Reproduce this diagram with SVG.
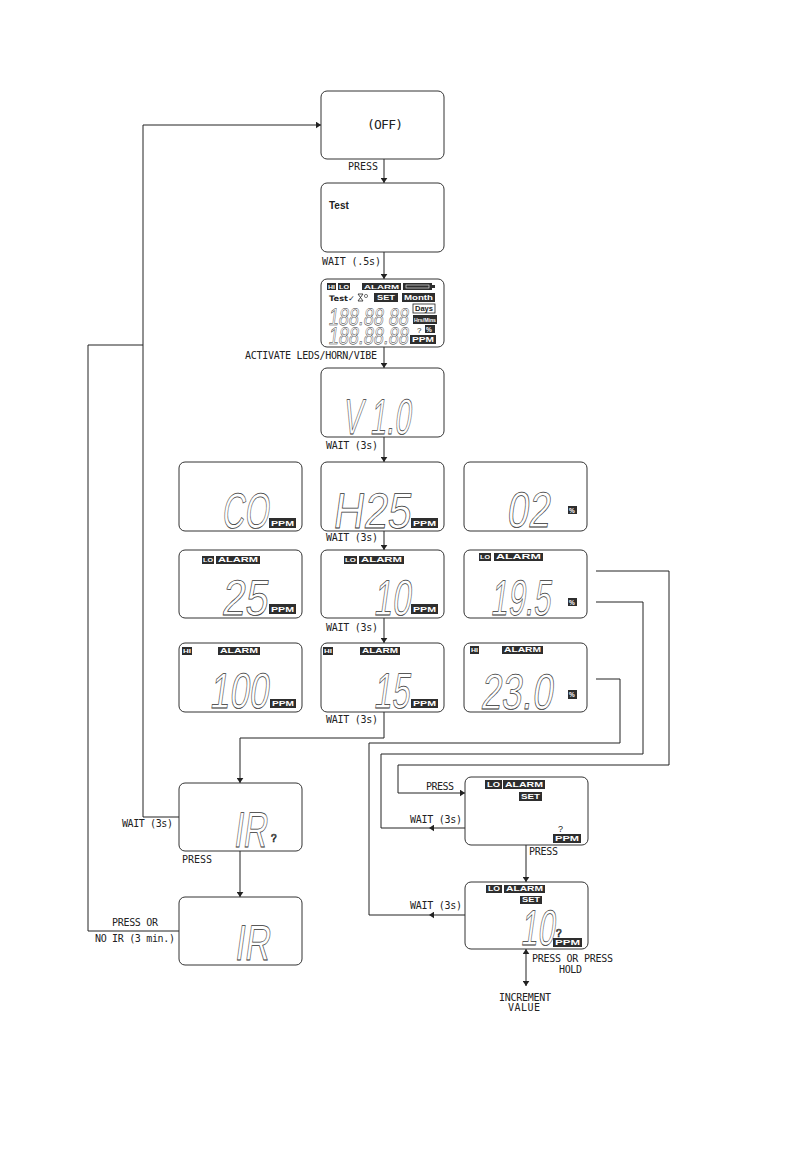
<svg xmlns="http://www.w3.org/2000/svg" width="792" height="1152" viewBox="0 0 792 1152">
<style>
.box{fill:#fff;stroke:#333;stroke-width:1}
.ln{fill:none;stroke:#222;stroke-width:1}
.lbl{font-family:"DejaVu Sans Mono","Liberation Mono",monospace;font-size:10px;fill:#222}
.dig{font-family:"Liberation Sans",Arial,sans-serif;font-size:50px;fill:#fff;stroke:#333;stroke-width:0.75}
.sdig{font-family:"Liberation Sans",Arial,sans-serif;font-size:24px;fill:#fff;stroke:#333;stroke-width:0.5}
.bd{fill:#2e2e2e}
.bt{font-family:"Liberation Sans",Arial,sans-serif;font-size:7px;font-weight:bold;fill:#fff}
.q{font-family:"Liberation Sans",Arial,sans-serif;font-size:10px;fill:#fff;stroke:#222;stroke-width:0.7}
</style>
<defs>
<marker id="a" viewBox="0 0 6 8" refX="6" refY="4" markerWidth="5" markerHeight="7" markerUnits="userSpaceOnUse" orient="auto"><path d="M0,0 L6,4 L0,8 z" fill="#222"/></marker>
</defs>

<g id="connectors">
<path class="ln" d="M384,159 V183" marker-end="url(#a)"/>
<path class="ln" d="M384,252 V279" marker-end="url(#a)"/>
<path class="ln" d="M384,347 V368" marker-end="url(#a)"/>
<path class="ln" d="M384,437 V462" marker-end="url(#a)"/>
<path class="ln" d="M384,531 V550" marker-end="url(#a)"/>
<path class="ln" d="M384,618 V643" marker-end="url(#a)"/>
<path class="ln" d="M384,712 V738 H240 V783" marker-end="url(#a)"/>
<path class="ln" d="M240,851 V897" marker-end="url(#a)"/>
<path class="ln" d="M179,817 H143 V125 H321" marker-end="url(#a)"/>
<path class="ln" d="M179,931 H88 V345 H143"/>
<path class="ln" d="M596,571 H669 V765 H398 V793 H465" marker-end="url(#a)"/>
<path class="ln" d="M465,828 H429" marker-end="url(#a)"/>
<path class="ln" d="M429,828 H381 V754 H643 V602 H596"/>
<path class="ln" d="M465,915 H429" marker-end="url(#a)"/>
<path class="ln" d="M429,915 H369 V743 H620 V679 H596"/>
<path class="ln" d="M526,845 V882" marker-end="url(#a)"/>
<path class="ln" d="M526,968 V949" marker-end="url(#a)"/>
<path class="ln" d="M526,968 V986" marker-end="url(#a)"/>
<text class="lbl" x="348" y="170" textLength="30">PRESS</text>
<text class="lbl" x="322" y="265" textLength="59">WAIT (.5s)</text>
<text class="lbl" x="245" y="359" textLength="132">ACTIVATE LEDS/HORN/VIBE</text>
<text class="lbl" x="326" y="449" textLength="52">WAIT (3s)</text>
<text class="lbl" x="326" y="541" textLength="52">WAIT (3s)</text>
<text class="lbl" x="326" y="631" textLength="52">WAIT (3s)</text>
<text class="lbl" x="326" y="723" textLength="52">WAIT (3s)</text>
<text class="lbl" x="122" y="827" textLength="51">WAIT (3s)</text>
<text class="lbl" x="182" y="863" textLength="30">PRESS</text>
<text class="lbl" x="112" y="926" textLength="46">PRESS OR</text>
<text class="lbl" x="95" y="942" textLength="80">NO IR (3 min.)</text>
<text class="lbl" x="426" y="790" textLength="28">PRESS</text>
<text class="lbl" x="410" y="823" textLength="52">WAIT (3s)</text>
<text class="lbl" x="529" y="855" textLength="29">PRESS</text>
<text class="lbl" x="410" y="909" textLength="52">WAIT (3s)</text>
<text class="lbl" x="532" y="962" textLength="81">PRESS OR PRESS</text>
<text class="lbl" x="559" y="973" textLength="23">HOLD</text>
<text class="lbl" x="499" y="1001" textLength="52">INCREMENT</text>
<text class="lbl" x="508" y="1011" textLength="32">VALUE</text>
</g>

<g id="off">
<rect class="box" x="321" y="91" width="123" height="68" rx="6"/>
<text class="lbl" x="367" y="129" style="font-size:13px" textLength="36">(OFF)</text>
</g>

<g id="test">
<rect class="box" x="321" y="183" width="123" height="69" rx="6"/>
<text x="329" y="209" style="font-family:'Liberation Sans',Arial,sans-serif;font-size:10px;font-weight:bold;fill:#222">Test</text>
</g>

<g id="lcd-all">
<rect class="box" x="321" y="279" width="123" height="68" rx="6"/>
<rect class="bd" x="327" y="283" width="9" height="7"/><text class="bt" x="328" y="289" style="font-size:6px" textLength="7" lengthAdjust="spacingAndGlyphs">HI</text>
<rect class="bd" x="338" y="283" width="12" height="7"/><text class="bt" x="339" y="289" style="font-size:6px" textLength="10" lengthAdjust="spacingAndGlyphs">LO</text>
<rect class="bd" x="362" y="283" width="39" height="7"/><text class="bt" x="364" y="289" style="font-size:6px" textLength="35" lengthAdjust="spacingAndGlyphs">ALARM</text>
<rect class="bd" x="403" y="283" width="29" height="7"/><rect class="bd" x="432" y="285" width="3" height="3"/>
<rect x="406" y="285" width="23" height="3" fill="none" stroke="#fff" stroke-width="0.6"/>
<text x="329" y="301" style="font-family:'DejaVu Sans',sans-serif;font-size:7.5px;font-weight:bold;fill:#222" textLength="26" lengthAdjust="spacingAndGlyphs">Test✓</text>
<path d="M358,294 H363 L358,301 H363 Z" fill="none" stroke="#222" stroke-width="0.8"/>
<circle cx="366" cy="296" r="1.6" fill="none" stroke="#222" stroke-width="0.6"/>
<rect class="bd" x="374" y="293" width="24" height="9"/><text class="bt" x="377" y="300" textLength="18" lengthAdjust="spacingAndGlyphs">SET</text>
<rect class="bd" x="402" y="293" width="33" height="9"/><text class="bt" x="404" y="300" textLength="29" lengthAdjust="spacingAndGlyphs">Month</text>
<rect x="413" y="304" width="22" height="9" fill="#fff" stroke="#222" stroke-width="0.8"/><text x="415" y="311" style="font-family:'Liberation Sans',Arial,sans-serif;font-size:6.5px;font-weight:bold;fill:#222" textLength="18" lengthAdjust="spacingAndGlyphs">Days</text>
<rect class="bd" x="413" y="315" width="24" height="9"/><text class="bt" x="414" y="322" style="font-size:6px" textLength="22" lengthAdjust="spacingAndGlyphs">Hrs/Mins</text>
<text x="417" y="333" style="font-family:'Liberation Sans',Arial,sans-serif;font-size:8px;fill:#222">?</text>
<rect class="bd" x="425" y="325" width="10" height="8"/><text class="bt" x="426" y="332" style="font-size:6.5px">%</text>
<rect class="bd" x="410" y="335" width="26" height="9"/><text class="bt" x="412" y="342" textLength="22" lengthAdjust="spacingAndGlyphs">PPM</text>
<text class="sdig" transform="translate(328,325) skewX(-8)" textLength="80" lengthAdjust="spacingAndGlyphs">188.88 88</text>
<text class="sdig" transform="translate(328,344) skewX(-8)" textLength="80" lengthAdjust="spacingAndGlyphs">188.88.88</text>
</g>

<g id="version">
<rect class="box" x="321" y="368" width="123" height="69" rx="6"/>
<text class="dig" transform="translate(342,434) skewX(-8)" textLength="68" lengthAdjust="spacingAndGlyphs">V 1.0</text>
</g>

<g id="co">
<rect class="box" x="179" y="462" width="123" height="69" rx="6"/>
<text class="dig" transform="translate(221,528) skewX(-8)" textLength="47" lengthAdjust="spacingAndGlyphs">CO</text>
<rect class="bd" x="269" y="518" width="27" height="10"/><text class="bt" x="271" y="526" textLength="23" lengthAdjust="spacingAndGlyphs">PPM</text>
</g>
<g id="h2s">
<rect class="box" x="321" y="462" width="123" height="69" rx="6"/>
<text class="dig" transform="translate(332,528) skewX(-8)" textLength="78" lengthAdjust="spacingAndGlyphs">H25</text>
<rect class="bd" x="411" y="518" width="27" height="10"/><text class="bt" x="413" y="526" textLength="23" lengthAdjust="spacingAndGlyphs">PPM</text>
</g>
<g id="o2">
<rect class="box" x="464" y="462" width="123" height="69" rx="6"/>
<text class="dig" transform="translate(506,527) skewX(-8)" textLength="43" lengthAdjust="spacingAndGlyphs">02</text>
<rect class="bd" x="568" y="506" width="9" height="8"/><text class="bt" x="569" y="513" style="font-size:6.5px">%</text>
</g>

<g id="co-low">
<rect class="box" x="179" y="550" width="123" height="68" rx="6"/>
<rect class="bd" x="202" y="556" width="12" height="8"/><text class="bt" x="203" y="562" style="font-size:6px" textLength="10" lengthAdjust="spacingAndGlyphs">LO</text>
<rect class="bd" x="216" y="556" width="44" height="8"/><text class="bt" x="218" y="562" textLength="40" lengthAdjust="spacingAndGlyphs">ALARM</text>
<text class="dig" transform="translate(221,615) skewX(-8)" textLength="46" lengthAdjust="spacingAndGlyphs">25</text>
<rect class="bd" x="269" y="604" width="27" height="10"/><text class="bt" x="271" y="612" textLength="23" lengthAdjust="spacingAndGlyphs">PPM</text>
</g>
<g id="h2s-low">
<rect class="box" x="321" y="550" width="123" height="68" rx="6"/>
<rect class="bd" x="344" y="556" width="13" height="8"/><text class="bt" x="345" y="562" style="font-size:6px" textLength="11" lengthAdjust="spacingAndGlyphs">LO</text>
<rect class="bd" x="359" y="556" width="45" height="8"/><text class="bt" x="361" y="562" textLength="41" lengthAdjust="spacingAndGlyphs">ALARM</text>
<text class="dig" transform="translate(373,615) skewX(-8)" textLength="37" lengthAdjust="spacingAndGlyphs">10</text>
<rect class="bd" x="411" y="604" width="27" height="10"/><text class="bt" x="413" y="612" textLength="23" lengthAdjust="spacingAndGlyphs">PPM</text>
</g>
<g id="o2-low">
<rect class="box" x="464" y="550" width="123" height="68" rx="6"/>
<rect class="bd" x="479" y="553" width="12" height="8"/><text class="bt" x="480" y="559" style="font-size:6px" textLength="10" lengthAdjust="spacingAndGlyphs">LO</text>
<rect class="bd" x="494" y="553" width="49" height="8"/><text class="bt" x="496" y="559" textLength="45" lengthAdjust="spacingAndGlyphs">ALARM</text>
<text class="dig" transform="translate(490,615) skewX(-8)" textLength="60" lengthAdjust="spacingAndGlyphs">19.5</text>
<rect class="bd" x="568" y="598" width="9" height="8"/><text class="bt" x="569" y="605" style="font-size:6.5px">%</text>
</g>

<g id="co-high">
<rect class="box" x="179" y="643" width="123" height="69" rx="6"/>
<rect class="bd" x="182" y="647" width="10" height="8"/><text class="bt" x="183" y="653" style="font-size:6px" textLength="8" lengthAdjust="spacingAndGlyphs">HI</text>
<rect class="bd" x="218" y="647" width="42" height="8"/><text class="bt" x="220" y="653" textLength="38" lengthAdjust="spacingAndGlyphs">ALARM</text>
<text class="dig" transform="translate(209,708) skewX(-8)" textLength="59" lengthAdjust="spacingAndGlyphs">100</text>
<rect class="bd" x="270" y="699" width="26" height="9"/><text class="bt" x="272" y="706" textLength="22" lengthAdjust="spacingAndGlyphs">PPM</text>
</g>
<g id="h2s-high">
<rect class="box" x="321" y="643" width="123" height="69" rx="6"/>
<rect class="bd" x="323" y="647" width="10" height="8"/><text class="bt" x="324" y="653" style="font-size:6px" textLength="8" lengthAdjust="spacingAndGlyphs">HI</text>
<rect class="bd" x="360" y="647" width="40" height="8"/><text class="bt" x="362" y="653" textLength="36" lengthAdjust="spacingAndGlyphs">ALARM</text>
<text class="dig" transform="translate(373,708) skewX(-8)" textLength="36" lengthAdjust="spacingAndGlyphs">15</text>
<rect class="bd" x="411" y="699" width="27" height="9"/><text class="bt" x="413" y="706" textLength="23" lengthAdjust="spacingAndGlyphs">PPM</text>
</g>
<g id="o2-high">
<rect class="box" x="464" y="643" width="123" height="69" rx="6"/>
<rect class="bd" x="470" y="646" width="9" height="8"/><text class="bt" x="471" y="652" style="font-size:6px" textLength="7" lengthAdjust="spacingAndGlyphs">HI</text>
<rect class="bd" x="502" y="646" width="41" height="8"/><text class="bt" x="504" y="652" textLength="37" lengthAdjust="spacingAndGlyphs">ALARM</text>
<text class="dig" transform="translate(480,709) skewX(-8)" textLength="72" lengthAdjust="spacingAndGlyphs">23.0</text>
<rect class="bd" x="568" y="690" width="9" height="9"/><text class="bt" x="569" y="697" style="font-size:6.5px">%</text>
</g>

<g id="ir-query">
<rect class="box" x="179" y="783" width="123" height="68" rx="6"/>
<text class="dig" transform="translate(233,847) skewX(-8)" textLength="33" lengthAdjust="spacingAndGlyphs">IR</text>
<text class="q" x="271" y="842">?</text>
</g>
<g id="ir">
<rect class="box" x="179" y="897" width="123" height="68" rx="6"/>
<text class="dig" transform="translate(234,960) skewX(-8)" textLength="35" lengthAdjust="spacingAndGlyphs">IR</text>
</g>

<g id="set-1">
<rect class="box" x="465" y="777" width="123" height="68" rx="6"/>
<rect class="bd" x="485" y="780" width="17" height="9"/><text class="bt" x="487" y="787" textLength="13" lengthAdjust="spacingAndGlyphs">LO</text>
<rect class="bd" x="503" y="780" width="42" height="9"/><text class="bt" x="505" y="787" textLength="38" lengthAdjust="spacingAndGlyphs">ALARM</text>
<rect class="bd" x="519" y="792" width="23" height="9"/><text class="bt" x="521" y="799" textLength="19" lengthAdjust="spacingAndGlyphs">SET</text>
<text x="558" y="832" style="font-family:'Liberation Sans',Arial,sans-serif;font-size:9px;fill:#222">?</text>
<rect class="bd" x="553" y="834" width="28" height="9"/><text class="bt" x="555" y="841" textLength="24" lengthAdjust="spacingAndGlyphs">PPM</text>
</g>
<g id="set-2">
<rect class="box" x="465" y="882" width="123" height="67" rx="6"/>
<rect class="bd" x="486" y="885" width="16" height="8"/><text class="bt" x="488" y="891" textLength="12" lengthAdjust="spacingAndGlyphs">LO</text>
<rect class="bd" x="504" y="885" width="41" height="8"/><text class="bt" x="506" y="891" textLength="37" lengthAdjust="spacingAndGlyphs">ALARM</text>
<rect class="bd" x="520" y="896" width="22" height="8"/><text class="bt" x="522" y="902" textLength="18" lengthAdjust="spacingAndGlyphs">SET</text>
<text class="dig" transform="translate(520,945) skewX(-8)" textLength="34" lengthAdjust="spacingAndGlyphs">10</text>
<text class="q" x="556" y="937">?</text>
<rect class="bd" x="553" y="938" width="29" height="9"/><text class="bt" x="555" y="945" textLength="25" lengthAdjust="spacingAndGlyphs">PPM</text>
</g>
</svg>
